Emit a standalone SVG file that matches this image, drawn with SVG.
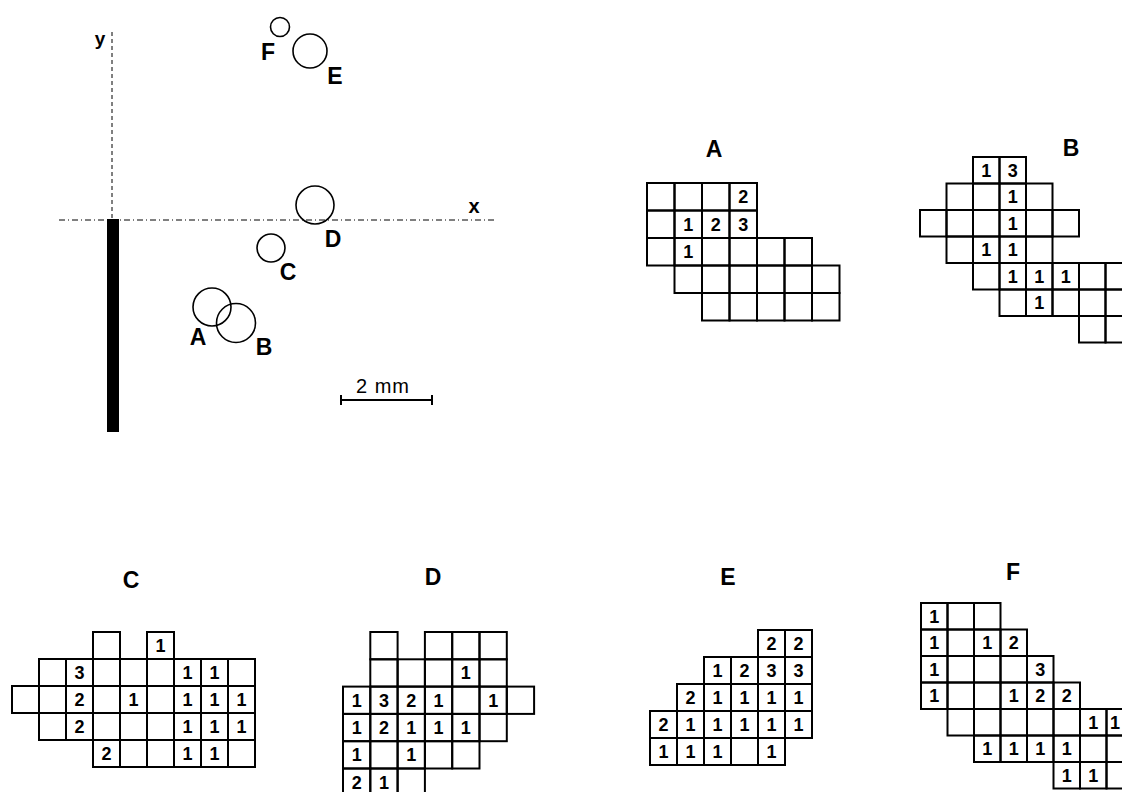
<svg xmlns="http://www.w3.org/2000/svg" width="1122" height="792" viewBox="0 0 1122 792">
<style>
.c{fill:none;stroke:#000;stroke-width:2}
.n{font-family:"Liberation Sans",Arial,sans-serif;font-weight:bold;font-size:18px;text-anchor:middle;fill:#000}
.t{font-family:"Liberation Sans",Arial,sans-serif;font-weight:bold;font-size:23px;text-anchor:middle;fill:#000}
.ax{stroke:#000;stroke-width:1;fill:none}
.sp{fill:none;stroke:#000;stroke-width:1.6}
</style>
<rect width="1122" height="792" fill="#fff"/>

<g id="map">
  <line class="ax" x1="112" y1="32" x2="112" y2="219" stroke-dasharray="4,3"/>
  <line class="ax" x1="59" y1="220" x2="497" y2="220" stroke-dasharray="6,3,1,3"/>
  <text class="t" x="100" y="45" style="font-size:19px">y</text>
  <text class="t" x="474" y="213" style="font-size:20px">x</text>
  <rect x="107" y="219" width="12" height="213" fill="#000"/>
  <g id="spotA"><circle class="sp" cx="212" cy="307" r="19"/><text class="t" x="198" y="345">A</text></g>
  <g id="spotB"><circle class="sp" cx="236" cy="323" r="19.5"/><text class="t" x="264" y="355">B</text></g>
  <g id="spotC"><circle class="sp" cx="271" cy="248" r="14"/><text class="t" x="288" y="280">C</text></g>
  <g id="spotD"><circle class="sp" cx="315" cy="205" r="19"/><text class="t" x="333" y="247">D</text></g>
  <g id="spotE"><circle class="sp" cx="310" cy="51" r="17"/><text class="t" x="335" y="84">E</text></g>
  <g id="spotF"><circle class="sp" cx="280" cy="27" r="9.5"/><text class="t" x="268" y="60">F</text></g>
  <g id="scale">
    <line class="ax" x1="341" y1="400" x2="432" y2="400" style="stroke-width:2"/>
    <line class="ax" x1="341" y1="395" x2="341" y2="405" style="stroke-width:2"/>
    <line class="ax" x1="432" y1="395" x2="432" y2="405" style="stroke-width:2"/>
    <text x="383" y="393" text-anchor="middle" font-family="Liberation Sans, Arial, sans-serif" font-size="20" letter-spacing="1">2 mm</text>
  </g>
</g>

<g id="gridA">
  <text class="t" x="714" y="157">A</text>
  <g transform="translate(647,183)">
    <rect class="c" x="0" y="0" width="27.5" height="27.5"/><rect class="c" x="27.5" y="0" width="27.5" height="27.5"/><rect class="c" x="55" y="0" width="27.5" height="27.5"/><rect class="c" x="82.5" y="0" width="27.5" height="27.5"/>
    <rect class="c" x="0" y="27.5" width="27.5" height="27.5"/><rect class="c" x="27.5" y="27.5" width="27.5" height="27.5"/><rect class="c" x="55" y="27.5" width="27.5" height="27.5"/><rect class="c" x="82.5" y="27.5" width="27.5" height="27.5"/>
    <rect class="c" x="0" y="55" width="27.5" height="27.5"/><rect class="c" x="27.5" y="55" width="27.5" height="27.5"/><rect class="c" x="55" y="55" width="27.5" height="27.5"/><rect class="c" x="82.5" y="55" width="27.5" height="27.5"/><rect class="c" x="110" y="55" width="27.5" height="27.5"/><rect class="c" x="137.5" y="55" width="27.5" height="27.5"/>
    <rect class="c" x="27.5" y="82.5" width="27.5" height="27.5"/><rect class="c" x="55" y="82.5" width="27.5" height="27.5"/><rect class="c" x="82.5" y="82.5" width="27.5" height="27.5"/><rect class="c" x="110" y="82.5" width="27.5" height="27.5"/><rect class="c" x="137.5" y="82.5" width="27.5" height="27.5"/><rect class="c" x="165" y="82.5" width="27.5" height="27.5"/>
    <rect class="c" x="55" y="110" width="27.5" height="27.5"/><rect class="c" x="82.5" y="110" width="27.5" height="27.5"/><rect class="c" x="110" y="110" width="27.5" height="27.5"/><rect class="c" x="137.5" y="110" width="27.5" height="27.5"/><rect class="c" x="165" y="110" width="27.5" height="27.5"/>
    <text class="n" x="96.25" y="20.25">2</text>
    <text class="n" x="41.25" y="47.75">1</text><text class="n" x="68.75" y="47.75">2</text><text class="n" x="96.25" y="47.75">3</text>
    <text class="n" x="41.25" y="75.25">1</text>
  </g>
</g>

<g id="gridB">
  <text class="t" x="1071" y="156">B</text>
  <g transform="translate(920,157)">
    <rect class="c" x="53" y="0" width="26.5" height="26.5"/><rect class="c" x="79.5" y="0" width="26.5" height="26.5"/>
    <rect class="c" x="26.5" y="26.5" width="26.5" height="26.5"/><rect class="c" x="53" y="26.5" width="26.5" height="26.5"/><rect class="c" x="79.5" y="26.5" width="26.5" height="26.5"/><rect class="c" x="106" y="26.5" width="26.5" height="26.5"/>
    <rect class="c" x="0" y="53" width="26.5" height="26.5"/><rect class="c" x="26.5" y="53" width="26.5" height="26.5"/><rect class="c" x="53" y="53" width="26.5" height="26.5"/><rect class="c" x="79.5" y="53" width="26.5" height="26.5"/><rect class="c" x="106" y="53" width="26.5" height="26.5"/><rect class="c" x="132.5" y="53" width="26.5" height="26.5"/>
    <rect class="c" x="26.5" y="79.5" width="26.5" height="26.5"/><rect class="c" x="53" y="79.5" width="26.5" height="26.5"/><rect class="c" x="79.5" y="79.5" width="26.5" height="26.5"/><rect class="c" x="106" y="79.5" width="26.5" height="26.5"/>
    <rect class="c" x="53" y="106" width="26.5" height="26.5"/><rect class="c" x="79.5" y="106" width="26.5" height="26.5"/><rect class="c" x="106" y="106" width="26.5" height="26.5"/><rect class="c" x="132.5" y="106" width="26.5" height="26.5"/><rect class="c" x="159" y="106" width="26.5" height="26.5"/><rect class="c" x="185.5" y="106" width="26.5" height="26.5"/>
    <rect class="c" x="79.5" y="132.5" width="26.5" height="26.5"/><rect class="c" x="106" y="132.5" width="26.5" height="26.5"/><rect class="c" x="132.5" y="132.5" width="26.5" height="26.5"/><rect class="c" x="159" y="132.5" width="26.5" height="26.5"/><rect class="c" x="185.5" y="132.5" width="26.5" height="26.5"/>
    <rect class="c" x="159" y="159" width="26.5" height="26.5"/><rect class="c" x="185.5" y="159" width="26.5" height="26.5"/>
    <text class="n" x="66.25" y="19.75">1</text><text class="n" x="92.75" y="19.75">3</text>
    <text class="n" x="92.75" y="46.25">1</text>
    <text class="n" x="92.75" y="72.75">1</text>
    <text class="n" x="66.25" y="99.25">1</text><text class="n" x="92.75" y="99.25">1</text>
    <text class="n" x="92.75" y="125.75">1</text><text class="n" x="119.25" y="125.75">1</text><text class="n" x="145.75" y="125.75">1</text>
    <text class="n" x="119.25" y="152.25">1</text>
  </g>
</g>

<g id="gridC">
  <text class="t" x="131" y="588">C</text>
  <g transform="translate(12,632)">
    <rect class="c" x="81" y="0" width="27" height="27"/><rect class="c" x="135" y="0" width="27" height="27"/>
    <rect class="c" x="27" y="27" width="27" height="27"/><rect class="c" x="54" y="27" width="27" height="27"/><rect class="c" x="81" y="27" width="27" height="27"/><rect class="c" x="108" y="27" width="27" height="27"/><rect class="c" x="135" y="27" width="27" height="27"/><rect class="c" x="162" y="27" width="27" height="27"/><rect class="c" x="189" y="27" width="27" height="27"/><rect class="c" x="216" y="27" width="27" height="27"/>
    <rect class="c" x="0" y="54" width="27" height="27"/><rect class="c" x="27" y="54" width="27" height="27"/><rect class="c" x="54" y="54" width="27" height="27"/><rect class="c" x="81" y="54" width="27" height="27"/><rect class="c" x="108" y="54" width="27" height="27"/><rect class="c" x="135" y="54" width="27" height="27"/><rect class="c" x="162" y="54" width="27" height="27"/><rect class="c" x="189" y="54" width="27" height="27"/><rect class="c" x="216" y="54" width="27" height="27"/>
    <rect class="c" x="27" y="81" width="27" height="27"/><rect class="c" x="54" y="81" width="27" height="27"/><rect class="c" x="81" y="81" width="27" height="27"/><rect class="c" x="108" y="81" width="27" height="27"/><rect class="c" x="135" y="81" width="27" height="27"/><rect class="c" x="162" y="81" width="27" height="27"/><rect class="c" x="189" y="81" width="27" height="27"/><rect class="c" x="216" y="81" width="27" height="27"/>
    <rect class="c" x="81" y="108" width="27" height="27"/><rect class="c" x="108" y="108" width="27" height="27"/><rect class="c" x="135" y="108" width="27" height="27"/><rect class="c" x="162" y="108" width="27" height="27"/><rect class="c" x="189" y="108" width="27" height="27"/><rect class="c" x="216" y="108" width="27" height="27"/>
    <text class="n" x="148.5" y="20">1</text>
    <text class="n" x="67.5" y="47">3</text><text class="n" x="175.5" y="47">1</text><text class="n" x="202.5" y="47">1</text>
    <text class="n" x="67.5" y="74">2</text><text class="n" x="121.5" y="74">1</text><text class="n" x="175.5" y="74">1</text><text class="n" x="202.5" y="74">1</text><text class="n" x="229.5" y="74">1</text>
    <text class="n" x="67.5" y="101">2</text><text class="n" x="175.5" y="101">1</text><text class="n" x="202.5" y="101">1</text><text class="n" x="229.5" y="101">1</text>
    <text class="n" x="94.5" y="128">2</text><text class="n" x="175.5" y="128">1</text><text class="n" x="202.5" y="128">1</text>
  </g>
</g>

<g id="gridD">
  <text class="t" x="433" y="585">D</text>
  <g transform="translate(343,632)">
    <rect class="c" x="27.3" y="0" width="27.3" height="27.3"/><rect class="c" x="81.9" y="0" width="27.3" height="27.3"/><rect class="c" x="109.2" y="0" width="27.3" height="27.3"/><rect class="c" x="136.5" y="0" width="27.3" height="27.3"/>
    <rect class="c" x="27.3" y="27.3" width="27.3" height="27.3"/><rect class="c" x="54.6" y="27.3" width="27.3" height="27.3"/><rect class="c" x="81.9" y="27.3" width="27.3" height="27.3"/><rect class="c" x="109.2" y="27.3" width="27.3" height="27.3"/><rect class="c" x="136.5" y="27.3" width="27.3" height="27.3"/>
    <rect class="c" x="0" y="54.6" width="27.3" height="27.3"/><rect class="c" x="27.3" y="54.6" width="27.3" height="27.3"/><rect class="c" x="54.6" y="54.6" width="27.3" height="27.3"/><rect class="c" x="81.9" y="54.6" width="27.3" height="27.3"/><rect class="c" x="109.2" y="54.6" width="27.3" height="27.3"/><rect class="c" x="136.5" y="54.6" width="27.3" height="27.3"/><rect class="c" x="163.8" y="54.6" width="27.3" height="27.3"/>
    <rect class="c" x="0" y="81.9" width="27.3" height="27.3"/><rect class="c" x="27.3" y="81.9" width="27.3" height="27.3"/><rect class="c" x="54.6" y="81.9" width="27.3" height="27.3"/><rect class="c" x="81.9" y="81.9" width="27.3" height="27.3"/><rect class="c" x="109.2" y="81.9" width="27.3" height="27.3"/><rect class="c" x="136.5" y="81.9" width="27.3" height="27.3"/>
    <rect class="c" x="0" y="109.2" width="27.3" height="27.3"/><rect class="c" x="27.3" y="109.2" width="27.3" height="27.3"/><rect class="c" x="54.6" y="109.2" width="27.3" height="27.3"/><rect class="c" x="81.9" y="109.2" width="27.3" height="27.3"/><rect class="c" x="109.2" y="109.2" width="27.3" height="27.3"/>
    <rect class="c" x="0" y="136.5" width="27.3" height="27.3"/><rect class="c" x="27.3" y="136.5" width="27.3" height="27.3"/><rect class="c" x="54.6" y="136.5" width="27.3" height="27.3"/>
    <text class="n" x="122.85" y="47.45">1</text>
    <text class="n" x="13.65" y="74.75">1</text><text class="n" x="40.95" y="74.75">3</text><text class="n" x="68.25" y="74.75">2</text><text class="n" x="95.55" y="74.75">1</text><text class="n" x="150.15" y="74.75">1</text>
    <text class="n" x="13.65" y="102.05">1</text><text class="n" x="40.95" y="102.05">2</text><text class="n" x="68.25" y="102.05">1</text><text class="n" x="95.55" y="102.05">1</text><text class="n" x="122.85" y="102.05">1</text>
    <text class="n" x="13.65" y="129.35">1</text><text class="n" x="68.25" y="129.35">1</text>
    <text class="n" x="13.65" y="156.65">2</text><text class="n" x="40.95" y="156.65">1</text>
  </g>
</g>

<g id="gridE">
  <text class="t" x="728" y="585">E</text>
  <g transform="translate(650,630)">
    <rect class="c" x="108" y="0" width="27" height="27"/><rect class="c" x="135" y="0" width="27" height="27"/>
    <rect class="c" x="54" y="27" width="27" height="27"/><rect class="c" x="81" y="27" width="27" height="27"/><rect class="c" x="108" y="27" width="27" height="27"/><rect class="c" x="135" y="27" width="27" height="27"/>
    <rect class="c" x="27" y="54" width="27" height="27"/><rect class="c" x="54" y="54" width="27" height="27"/><rect class="c" x="81" y="54" width="27" height="27"/><rect class="c" x="108" y="54" width="27" height="27"/><rect class="c" x="135" y="54" width="27" height="27"/>
    <rect class="c" x="0" y="81" width="27" height="27"/><rect class="c" x="27" y="81" width="27" height="27"/><rect class="c" x="54" y="81" width="27" height="27"/><rect class="c" x="81" y="81" width="27" height="27"/><rect class="c" x="108" y="81" width="27" height="27"/><rect class="c" x="135" y="81" width="27" height="27"/>
    <rect class="c" x="0" y="108" width="27" height="27"/><rect class="c" x="27" y="108" width="27" height="27"/><rect class="c" x="54" y="108" width="27" height="27"/><rect class="c" x="81" y="108" width="27" height="27"/><rect class="c" x="108" y="108" width="27" height="27"/>
    <text class="n" x="121.5" y="20">2</text><text class="n" x="148.5" y="20">2</text>
    <text class="n" x="67.5" y="47">1</text><text class="n" x="94.5" y="47">2</text><text class="n" x="121.5" y="47">3</text><text class="n" x="148.5" y="47">3</text>
    <text class="n" x="40.5" y="74">2</text><text class="n" x="67.5" y="74">1</text><text class="n" x="94.5" y="74">1</text><text class="n" x="121.5" y="74">1</text><text class="n" x="148.5" y="74">1</text>
    <text class="n" x="13.5" y="101">2</text><text class="n" x="40.5" y="101">1</text><text class="n" x="67.5" y="101">1</text><text class="n" x="94.5" y="101">1</text><text class="n" x="121.5" y="101">1</text><text class="n" x="148.5" y="101">1</text>
    <text class="n" x="13.5" y="128">1</text><text class="n" x="40.5" y="128">1</text><text class="n" x="67.5" y="128">1</text><text class="n" x="121.5" y="128">1</text>
  </g>
</g>

<g id="gridF">
  <text class="t" x="1013" y="580">F</text>
  <g transform="translate(921,603)">
    <rect class="c" x="0" y="0" width="26.5" height="26.5"/><rect class="c" x="26.5" y="0" width="26.5" height="26.5"/><rect class="c" x="53" y="0" width="26.5" height="26.5"/>
    <rect class="c" x="0" y="26.5" width="26.5" height="26.5"/><rect class="c" x="26.5" y="26.5" width="26.5" height="26.5"/><rect class="c" x="53" y="26.5" width="26.5" height="26.5"/><rect class="c" x="79.5" y="26.5" width="26.5" height="26.5"/>
    <rect class="c" x="0" y="53" width="26.5" height="26.5"/><rect class="c" x="26.5" y="53" width="26.5" height="26.5"/><rect class="c" x="53" y="53" width="26.5" height="26.5"/><rect class="c" x="79.5" y="53" width="26.5" height="26.5"/><rect class="c" x="106" y="53" width="26.5" height="26.5"/>
    <rect class="c" x="0" y="79.5" width="26.5" height="26.5"/><rect class="c" x="26.5" y="79.5" width="26.5" height="26.5"/><rect class="c" x="53" y="79.5" width="26.5" height="26.5"/><rect class="c" x="79.5" y="79.5" width="26.5" height="26.5"/><rect class="c" x="106" y="79.5" width="26.5" height="26.5"/><rect class="c" x="132.5" y="79.5" width="26.5" height="26.5"/>
    <rect class="c" x="26.5" y="106" width="26.5" height="26.5"/><rect class="c" x="53" y="106" width="26.5" height="26.5"/><rect class="c" x="79.5" y="106" width="26.5" height="26.5"/><rect class="c" x="106" y="106" width="26.5" height="26.5"/><rect class="c" x="132.5" y="106" width="26.5" height="26.5"/><rect class="c" x="159" y="106" width="26.5" height="26.5"/><rect class="c" x="185.5" y="106" width="26.5" height="26.5"/>
    <rect class="c" x="53" y="132.5" width="26.5" height="26.5"/><rect class="c" x="79.5" y="132.5" width="26.5" height="26.5"/><rect class="c" x="106" y="132.5" width="26.5" height="26.5"/><rect class="c" x="132.5" y="132.5" width="26.5" height="26.5"/><rect class="c" x="159" y="132.5" width="26.5" height="26.5"/><rect class="c" x="185.5" y="132.5" width="26.5" height="26.5"/>
    <rect class="c" x="132.5" y="159" width="26.5" height="26.5"/><rect class="c" x="159" y="159" width="26.5" height="26.5"/><rect class="c" x="185.5" y="159" width="26.5" height="26.5"/>
    <text class="n" x="13.25" y="19.75">1</text>
    <text class="n" x="13.25" y="46.25">1</text><text class="n" x="66.25" y="46.25">1</text><text class="n" x="92.75" y="46.25">2</text>
    <text class="n" x="13.25" y="72.75">1</text><text class="n" x="119.25" y="72.75">3</text>
    <text class="n" x="13.25" y="99.25">1</text><text class="n" x="92.75" y="99.25">1</text><text class="n" x="119.25" y="99.25">2</text><text class="n" x="145.75" y="99.25">2</text>
    <text class="n" x="172.25" y="125.75">1</text><text class="n" x="194" y="125.75">1</text>
    <text class="n" x="66.25" y="152.25">1</text><text class="n" x="92.75" y="152.25">1</text><text class="n" x="119.25" y="152.25">1</text><text class="n" x="145.75" y="152.25">1</text>
    <text class="n" x="145.75" y="178.75">1</text><text class="n" x="172.25" y="178.75">1</text>
  </g>
</g>
</svg>
